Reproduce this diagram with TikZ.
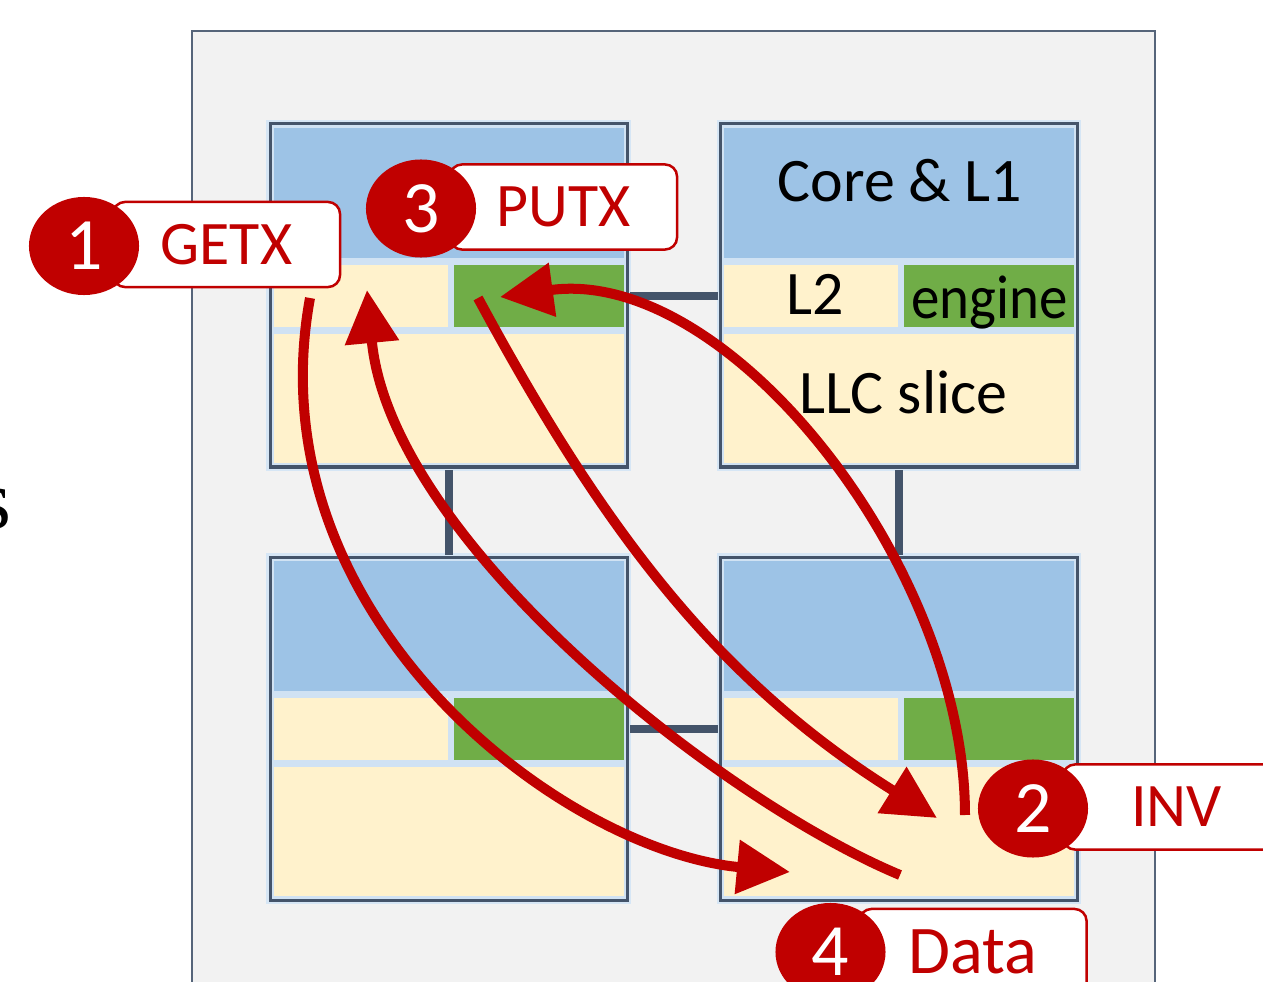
\documentclass[tikz,border=0pt]{standalone}
\usepackage{fontspec}
\usepackage{graphicx}
\setmainfont{Carlito}
\newfontfamily\serifface{Liberation Serif}
\usetikzlibrary{arrows.meta,shapes.geometric,calc}

\definecolor{panelfill}{HTML}{F2F2F2}
\definecolor{paneledge}{HTML}{56657A}
\definecolor{edge}{HTML}{44546A}
\definecolor{halo}{HTML}{D6E6F5}
\definecolor{gap}{HTML}{D0E2F3}
\definecolor{corefill}{HTML}{9DC3E6}
\definecolor{cachefill}{HTML}{FFF2CC}
\definecolor{enginefill}{HTML}{70AD47}
\definecolor{msgred}{HTML}{C00000}

\tikzset{
  blk/.style={draw=none, inner sep=0pt, outer sep=0pt},
  tiletext/.style={font=\fontsize{17.6pt}{20pt}\selectfont, inner sep=0pt, anchor=base},
  bus/.style={draw=edge, line width=0.08cm},
  flow/.style={draw=msgred, line width=0.1cm, line cap=butt,
    -{Triangle[length=0.53cm, width=0.52cm]}},
  tagbox/.style={draw=msgred, line width=0.025cm, fill=white, rounded corners=0.12cm,
    minimum width=2.27cm, minimum height=0.85cm, inner sep=0pt, text=msgred,
    font=\fontsize{17.6pt}{20pt}\selectfont},
  num/.style={ellipse, fill=msgred, draw=none, minimum width=1.1cm, minimum height=0.98cm,
    inner sep=0pt, text=white, font=\fontsize{21pt}{24pt}\selectfont},
  % one chip tile: core & L1 on top, L2 + engine row, LLC slice below
  tile/.pic={
    \path[draw=halo, line width=0.07cm] (0,0) rectangle (357,343);
    \path[fill=gap, draw=edge, line width=0.03cm] (0,0) rectangle (357,343);
    \node[blk, fill=corefill, minimum width=3.5cm, minimum height=1.3cm] (-core) at (179,69) {};
    \node[blk, fill=cachefill, minimum width=1.74cm, minimum height=0.62cm] (-l2) at (91,172) {};
    \node[blk, fill=enginefill, minimum width=1.7cm, minimum height=0.62cm] (-eng) at (269,172) {};
    \node[blk, fill=cachefill, minimum width=3.5cm, minimum height=1.29cm] (-llc) at (179,274.5) {};
  }
}

\begin{document}
\begin{tikzpicture}[x=0.01cm, y=-0.01cm]
\useasboundingbox (0,0) rectangle (1263,982);

% stray glyph at the left margin
\node[anchor=base east, inner sep=0pt, font=\serifface\fontsize{24pt}{28pt}\selectfont] (edge-s) at (12,528) {s};

% chip panel
\path[fill=panelfill, draw=paneledge, line width=0.02cm] (192,31) rectangle (1155,1010);

% four tiles
\pic (tl) at (270,124) {tile};
\pic (tr) at (720,124) {tile};
\pic (bl) at (270,557) {tile};
\pic (br) at (720,557) {tile};

% mesh links
\draw[bus] ($(tl-eng.east)+(6,0)$) -- ($(tr-l2.west)+(-6,0)$);
\draw[bus] ($(bl-eng.east)+(6,0)$) -- ($(br-l2.west)+(-6,0)$);
\draw[bus] ($(tl-llc.south)+(0,7)$) -- ($(bl-core.north)+(0,-6)$);
\draw[bus] ($(tr-llc.south)+(0,7)$) -- ($(br-core.north)+(0,-6)$);

% labels of the annotated tile
\node[tiletext] (t-core) at ($(tr-core.center)+(1,9)$) {Core \& L1};
\node[tiletext] (t-l2) at ($(tr-l2.center)+(4.5,19)$) {L2};
\node[tiletext] (t-eng) at ($(tr-eng.center)+(0.5,22)$) {\scalebox{0.92}[1]{engine}};
\node[tiletext] (t-llc) at ($(tr-llc.center)+(4.5,14.5)$) {LLC slice};

% end points of the message arrows
\coordinate (getx-from) at (310,298);
\coordinate (data-to) at (790,872);
\coordinate (data-from) at (900,875);
\coordinate (req-to) at (367,290);
\coordinate (inv-from) at (478,298);
\coordinate (inv-to) at (937,818);
\coordinate (putx-from) at (965,815);
\coordinate (putx-to) at (500,297);

% message arrows
\draw[flow] (getx-from) .. controls (252,615) and (560,850) .. (data-to);
\draw[flow] (data-from) .. controls (716,798) and (390.5,539) .. (req-to);
\draw[flow] (inv-from) .. controls (601.5,527) and (716,680) .. (inv-to);
\draw[flow] (putx-from) .. controls (965,565) and (727.7,265.7) .. (putx-to);

% numbered message tags
\node[tagbox] (getx) at (226.5,244.5) {GETX};
\node[num] (n1) at (84,246) {1};
\node[tagbox] (putx) at (563.5,207) {PUTX};
\node[num] (n3) at (421,208.5) {3};
\node[tagbox] (inv) at (1176.5,807) {INV};
\node[num] (n2) at (1033,808.5) {2};
\node[tagbox, font=\fontsize{19.4pt}{22pt}\selectfont] (data) at (973,951.5) {Data};
\node[num] (n4) at (830.5,952) {4};
\end{tikzpicture}
\end{document}
